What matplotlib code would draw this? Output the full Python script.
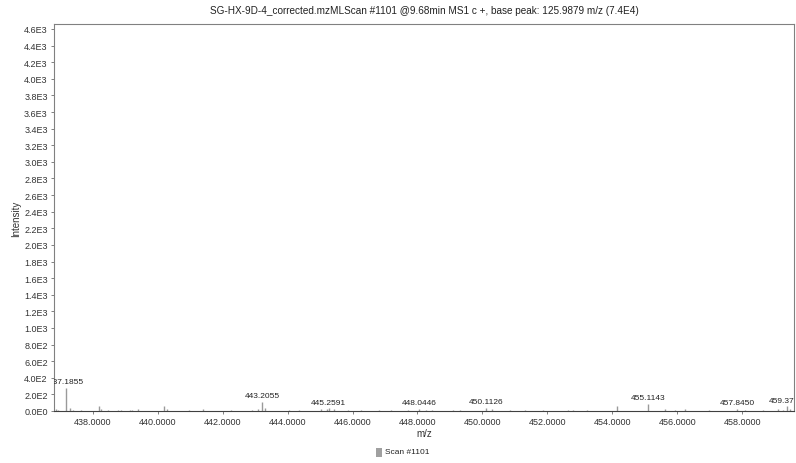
import matplotlib

matplotlib.use("Agg")
import matplotlib.pyplot as plt
from matplotlib.patches import Rectangle
from matplotlib.ticker import FuncFormatter, MultipleLocator

# peak list (m/z, intensity)
mz = [436.86, 436.92, 437.1855, 437.29, 437.39, 437.63, 438.19, 438.25, 438.46,
      438.77, 438.86, 439.14, 439.20, 439.39, 440.19, 440.28, 440.95, 441.39,
      442.25, 442.89, 443.08, 443.2055, 443.29, 444.03, 444.34, 445.02, 445.20,
      445.2591, 445.42, 445.85, 446.25, 446.80, 447.17, 447.72, 448.0446, 448.25,
      448.46, 449.08, 449.32, 450.1126, 450.31, 450.86, 451.32, 451.88, 452.65,
      452.80, 453.23, 454.15, 455.1143, 455.63, 455.94, 456.25, 456.98, 457.8450,
      458.09, 458.65, 459.11, 459.26, 459.3700, 459.48]
intensity = [20, 15, 275, 35, 15, 10, 65, 20, 15,
             10, 12, 15, 10, 20, 60, 25, 15, 25,
             10, 15, 25, 105, 30, 15, 15, 20, 20,
             30, 20, 15, 10, 10, 10, 12, 22, 15,
             12, 12, 15, 35, 20, 15, 10, 10, 15,
             10, 10, 60, 90, 20, 15, 20, 15, 25,
             12, 15, 20, 15, 55, 25]

label_mz = [437.1855, 443.2055, 445.2591, 448.0446, 450.1126, 455.1143, 457.8450, 459.3700]
label_text = ["437.1855", "443.2055", "445.2591", "448.0446", "450.1126", "455.1143",
              "457.8450", "459.3700"]

title = "SG-HX-9D-4_corrected.mzMLScan #1101 @9.68min MS1 c +, base peak: 125.9879 m/z (7.4E4)"


def sci(v, pos):
    if v == 0:
        return "0.0E0"
    s = f"{v:.1E}"
    mant, exp = s.split("E")
    return f"{mant}E{int(exp)}"


def draw():
    plt.rcParams["font.family"] = ["Liberation Sans", "DejaVu Sans"]
    fig = plt.figure(figsize=(7.96, 4.64), dpi=100)
    ax = fig.add_axes([0.0678, 0.1121, 0.9297, 0.834])

    ax.vlines(mz, 0, intensity, color="#9a9a9a", linewidth=1.0)

    lookup = dict(zip(mz, intensity))
    for m, t in zip(label_mz, label_text):
        ax.annotate(t, (m, lookup[m]), xytext=(0, 2), textcoords="offset points",
                    ha="center", va="bottom", fontsize=6, color="#222222",
                    annotation_clip=False, clip_on=True)

    ax.set_xlim(436.80, 459.60)
    ax.set_ylim(0, 4660)
    ax.xaxis.set_major_locator(MultipleLocator(2.0))
    ax.yaxis.set_major_locator(MultipleLocator(200))
    ax.xaxis.set_major_formatter(FuncFormatter(lambda v, p: f"{v:.4f}"))
    ax.yaxis.set_major_formatter(FuncFormatter(sci))

    for sp in ax.spines.values():
        sp.set_color("#808080")
        sp.set_linewidth(0.8)
    ax.spines["bottom"].set_color("#404040")
    ax.tick_params(axis="both", length=2.5, width=0.7, color="#808080",
                   labelsize=6.5, labelcolor="#333333", pad=2)

    ax.set_xlabel("m/z", fontsize=7, color="#333333", labelpad=1)
    ax.set_ylabel("Intensity", fontsize=7, color="#333333", labelpad=2)
    ax.set_title(title, fontsize=7.2, color="#222222", pad=8)

    # legend entry below the plot
    fig.patches.append(Rectangle((376 / 796, 1 - 458 / 464), 6 / 796, 9 / 464,
                                 transform=fig.transFigure, facecolor="#a0a0a0",
                                 edgecolor="none"))
    fig.text(385 / 796, 1 - 453 / 464, "Scan #1101", fontsize=6, color="#222222",
             va="center", ha="left")

    fig.savefig("out.png", dpi=100)


if __name__ == "__main__":
    draw()
